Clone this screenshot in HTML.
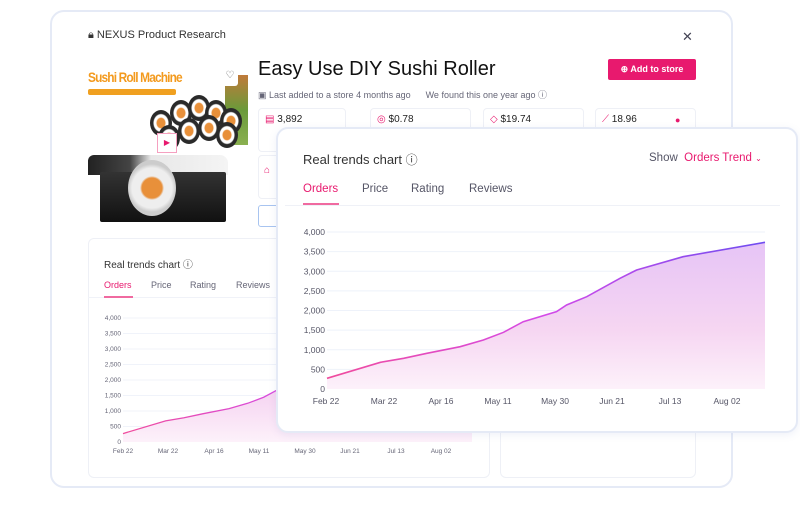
<!DOCTYPE html>
<html><head><meta charset="utf-8"><style>
*{margin:0;padding:0;box-sizing:border-box}
body{width:800px;height:529px;background:#fff;position:relative;overflow:hidden;font-family:"Liberation Sans",sans-serif;color:#222}
.abs{position:absolute}
.card{position:absolute;background:#fff;border:2px solid #e5eaf6;border-radius:14px}
.box{position:absolute;border:1px solid #eef0f6;border-radius:4px;background:#fff}
.t{position:absolute;white-space:nowrap}
.roll{position:absolute;width:22px;height:26px;border-radius:50%;background:radial-gradient(ellipse at 50% 50%,#e8903a 0 4px,#fff 5px 7px,#2a2a2a 8px)}
</style></head><body>
<div class="card" style="left:50px;top:10px;width:683px;height:478px"></div>
<div class="t" style="left:88px;top:29px;font-size:11px;color:#333">&#128274;&#xFE0E; NEXUS Product Research</div>
<div class="t" style="left:682px;top:29px;font-size:13px;color:#445">✕</div>
<!-- product image -->
<div class="t" style="left:88px;top:69px;font-size:14px;font-weight:bold;color:#f39a1e;letter-spacing:-1px;transform:scaleX(0.85);transform-origin:left">Sushi Roll Machine</div>
<div class="abs" style="left:88px;top:89px;width:88px;height:6px;background:#f0a020;border-radius:2px"></div>
<div class="abs" style="left:225px;top:75px;width:23px;height:70px;background:linear-gradient(#c07a3a,#6a9a3a 50%,#8ab050)"></div>
<div class="roll" style="left:150px;top:110px"></div>
<div class="roll" style="left:170px;top:100px"></div>
<div class="roll" style="left:188px;top:95px"></div>
<div class="roll" style="left:205px;top:100px"></div>
<div class="roll" style="left:220px;top:108px"></div>
<div class="roll" style="left:158px;top:125px"></div>
<div class="roll" style="left:178px;top:118px"></div>
<div class="roll" style="left:198px;top:115px"></div>
<div class="roll" style="left:216px;top:122px"></div>
<div class="abs" style="left:222px;top:70px;width:16px;height:16px;background:#fff;border-radius:3px;font-size:10px;text-align:center;color:#666">♡</div>
<div class="abs" style="left:157px;top:133px;width:20px;height:20px;border:1px solid #f5a0c0;background:#fff;color:#e8196e;font-size:8px;text-align:center;line-height:18px">▶</div>
<div class="abs" style="left:88px;top:155px;width:140px;height:20px;background:linear-gradient(90deg,#222 0,#444 30%,#e8e8e8 45%,#f4f4f4 100%);border-radius:6px 8px 0 0"></div>
<div class="abs" style="left:100px;top:172px;width:126px;height:50px;background:linear-gradient(180deg,#333,#111);border-radius:2px"></div>
<div class="abs" style="left:128px;top:160px;width:48px;height:56px;border-radius:50%;background:radial-gradient(circle,#e8903a 0 10px,#eee 12px 20px,#ccc 24px)"></div>
<div class="t" style="left:258px;top:58px;font-size:20px;color:#111">Easy Use DIY Sushi Roller</div>
<div class="abs" style="left:608px;top:59px;width:88px;height:21px;background:#e8196e;border-radius:2px;color:#fff;font-size:9px;font-weight:bold;text-align:center;line-height:21px">⊕ Add to store</div>
<div class="t" style="left:258px;top:88px;font-size:9px;color:#667">▣ Last added to a store 4 months ago &nbsp;&nbsp;&nbsp;&nbsp;&nbsp;We found this one year ago ⓘ</div>
<div class="box" style="left:258px;top:108px;width:88px;height:44px"></div>
<div class="box" style="left:370px;top:108px;width:101px;height:44px"></div>
<div class="box" style="left:483px;top:108px;width:101px;height:44px"></div>
<div class="box" style="left:595px;top:108px;width:101px;height:44px"></div>
<div class="t" style="left:265px;top:114px;font-size:10px;color:#222"><span style="color:#e8196e">▤</span> 3,892</div>
<div class="t" style="left:377px;top:114px;font-size:10px;color:#222"><span style="color:#e8196e">◎</span> $0.78</div>
<div class="t" style="left:490px;top:114px;font-size:10px;color:#222"><span style="color:#e8196e">◇</span> $19.74</div>
<div class="t" style="left:602px;top:114px;font-size:10px;color:#222"><span style="color:#e8196e">⟋</span> 18.96</div>
<div class="t" style="left:675px;top:115px;font-size:9px;color:#e8196e">●</div>
<div class="box" style="left:258px;top:155px;width:88px;height:44px"></div>
<div class="t" style="left:264px;top:165px;font-size:10px;color:#e8196e">⌂</div>
<div class="abs" style="left:258px;top:205px;width:30px;height:22px;border:1px solid #a8c4f0;border-radius:3px"></div>
<!-- back small chart card -->
<div class="box" style="left:88px;top:238px;width:402px;height:240px;border-radius:6px"></div>
<div class="box" style="left:500px;top:238px;width:196px;height:240px;border-radius:6px"></div>
<div class="t" style="left:104px;top:256px;font-size:10px;color:#333">Real trends chart ⓘ</div>
<div class="t" style="left:104px;top:280px;font-size:9px;color:#e8196e">Orders</div>
<div class="t" style="left:151px;top:280px;font-size:9px;color:#667">Price</div>
<div class="t" style="left:190px;top:280px;font-size:9px;color:#667">Rating</div>
<div class="t" style="left:236px;top:280px;font-size:9px;color:#667">Reviews</div>
<div class="abs" style="left:88px;top:297px;width:402px;height:1px;background:#f0f2f8"></div>
<div class="abs" style="left:104px;top:296px;width:29px;height:1.5px;background:#f06aa0"></div>
<svg class="abs" style="left:0;top:0" width="800" height="529">
<defs>
<linearGradient id="st" x1="0" x2="1" y1="0" y2="0"><stop offset="0" stop-color="#f04c9c"/><stop offset="0.5" stop-color="#d44ae8"/><stop offset="1" stop-color="#6e4cf0"/></linearGradient>
<linearGradient id="fl" x1="0" x2="0" y1="0" y2="1"><stop offset="0" stop-color="#e6c4f6"/><stop offset="0.6" stop-color="#f6d6f2"/><stop offset="1" stop-color="#fdf1fa"/></linearGradient>
</defs>
<g font-size="6.5" fill="#667" text-anchor="end" font-family="Liberation Sans">
<g stroke="#f0f3fa" stroke-width="1">
<line x1="123" x2="472" y1="318" y2="318"/><line x1="123" x2="472" y1="333.5" y2="333.5"/><line x1="123" x2="472" y1="349" y2="349"/><line x1="123" x2="472" y1="364.5" y2="364.5"/><line x1="123" x2="472" y1="380" y2="380"/><line x1="123" x2="472" y1="395.5" y2="395.5"/><line x1="123" x2="472" y1="411" y2="411"/><line x1="123" x2="472" y1="426.5" y2="426.5"/></g>
<text x="121" y="320">4,000</text><text x="121" y="335.5">3,500</text><text x="121" y="351">3,000</text><text x="121" y="366.5">2,500</text><text x="121" y="382">2,000</text><text x="121" y="397.5">1,500</text><text x="121" y="413">1,000</text><text x="121" y="428.5">500</text><text x="121" y="444">0</text>
<g text-anchor="middle"><text x="123" y="453">Feb 22</text><text x="168" y="453">Mar 22</text><text x="214" y="453">Apr 16</text><text x="259" y="453">May 11</text><text x="305" y="453">May 30</text><text x="350" y="453">Jun 21</text><text x="396" y="453">Jul 13</text><text x="441" y="453">Aug 02</text></g>
</g>
<g transform="translate(123,442) scale(0.349,0.031)">
<path d="M0,0 L0,-272 L122,-680 L175,-782 L228,-909 L304,-1078 L357,-1248 L403,-1444 L448,-1715 L524,-1970 L547,-2140 L593,-2352 L669,-2820 L707,-3032 L813,-3371 L1000,-3737 L1000,0Z" fill="url(#fl)"/>
<path d="M0,-272 L122,-680 L175,-782 L228,-909 L304,-1078 L357,-1248 L403,-1444 L448,-1715 L524,-1970 L547,-2140 L593,-2352 L669,-2820 L707,-3032 L813,-3371 L1000,-3737" fill="none" stroke="url(#st)" stroke-width="1.3" vector-effect="non-scaling-stroke"/>
</g>
</svg>
<!-- front card -->
<div class="card" style="left:276px;top:127px;width:522px;height:306px;border-radius:12px;box-shadow:0 2px 8px rgba(120,140,200,0.12)"></div>
<div class="t" style="left:303px;top:151px;font-size:13px;color:#333">Real trends chart <span style="font-size:12px">ⓘ</span></div>
<div class="t" style="left:649px;top:152px;font-size:11.5px;color:#556"><span>Show</span>&nbsp; <span style="color:#e8196e">Orders Trend</span> <span style="color:#e8196e;font-size:8px">⌄</span></div>
<div class="t" style="left:303px;top:183px;font-size:11.5px;color:#e8196e">Orders</div>
<div class="t" style="left:362px;top:183px;font-size:11.5px;color:#556">Price</div>
<div class="t" style="left:411px;top:183px;font-size:11.5px;color:#556">Rating</div>
<div class="t" style="left:469px;top:183px;font-size:11.5px;color:#556">Reviews</div>
<div class="abs" style="left:285px;top:205px;width:495px;height:1px;background:#eff1f7"></div>
<div class="abs" style="left:303px;top:203px;width:36px;height:2px;background:#f06aa0"></div>
<svg class="abs" style="left:0;top:0" width="800" height="529">
<g font-size="8.5" fill="#556" text-anchor="end" font-family="Liberation Sans">
<g stroke="#eef2fa" stroke-width="1">
<line x1="327" x2="765" y1="232" y2="232"/><line x1="327" x2="765" y1="251.6" y2="251.6"/><line x1="327" x2="765" y1="271.3" y2="271.3"/><line x1="327" x2="765" y1="290.9" y2="290.9"/><line x1="327" x2="765" y1="310.5" y2="310.5"/><line x1="327" x2="765" y1="330.1" y2="330.1"/><line x1="327" x2="765" y1="349.8" y2="349.8"/><line x1="327" x2="765" y1="369.4" y2="369.4"/></g>
<text x="325" y="235">4,000</text><text x="325" y="254.6">3,500</text><text x="325" y="274.3">3,000</text><text x="325" y="293.9">2,500</text><text x="325" y="313.5">2,000</text><text x="325" y="333.1">1,500</text><text x="325" y="352.8">1,000</text><text x="325" y="372.4">500</text><text x="325" y="392">0</text>
<g text-anchor="middle"><text x="326" y="404">Feb 22</text><text x="384" y="404">Mar 22</text><text x="441" y="404">Apr 16</text><text x="498" y="404">May 11</text><text x="555" y="404">May 30</text><text x="612" y="404">Jun 21</text><text x="670" y="404">Jul 13</text><text x="727" y="404">Aug 02</text></g>
</g>
<g transform="translate(327,389) scale(0.438,0.03925)">
<path d="M0,0 L0,-272 L122,-680 L175,-782 L228,-909 L304,-1078 L357,-1248 L403,-1444 L448,-1715 L524,-1970 L547,-2140 L593,-2352 L669,-2820 L707,-3032 L813,-3371 L1000,-3737 L1000,0Z" fill="url(#fl)"/>
<path d="M0,-272 L122,-680 L175,-782 L228,-909 L304,-1078 L357,-1248 L403,-1444 L448,-1715 L524,-1970 L547,-2140 L593,-2352 L669,-2820 L707,-3032 L813,-3371 L1000,-3737" fill="none" stroke="url(#st)" stroke-width="1.6" vector-effect="non-scaling-stroke"/>
</g>
</svg>
</body></html>
